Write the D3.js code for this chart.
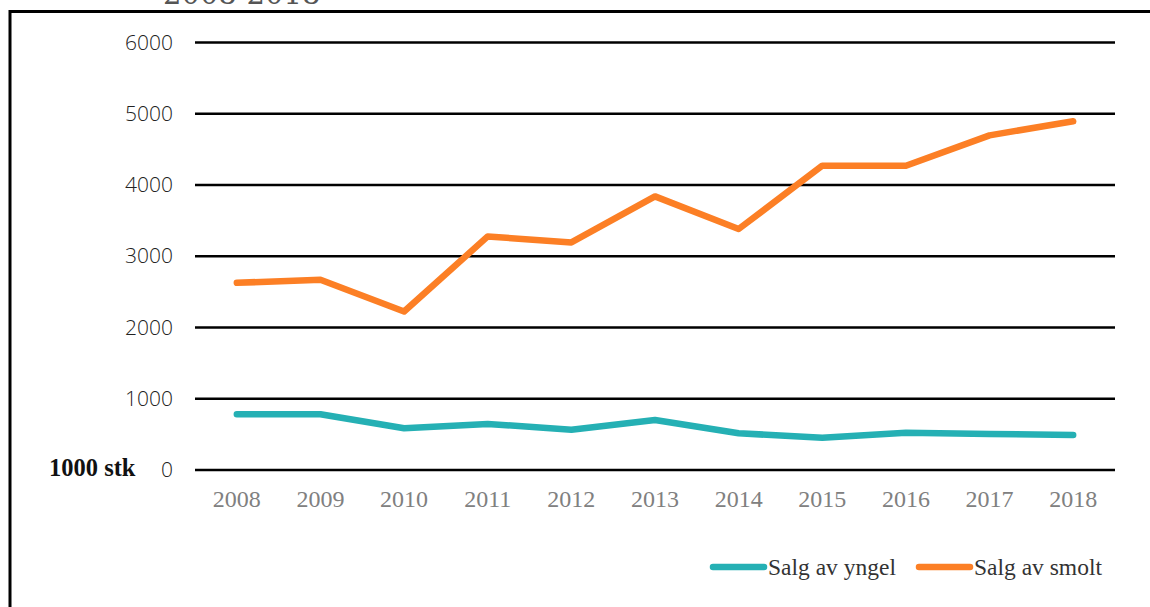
<!DOCTYPE html>
<html>
<head>
<meta charset="utf-8">
<script src="https://cdn.jsdelivr.net/npm/d3@7"></script>
<style>
  body { margin: 0; background: #fff; }
  svg { display: block; }
</style>
</head>
<body>
<div id="chart"></div>
<script>
// data (1000 stk)
const years = ["2008", "2009", "2010", "2011", "2012", "2013", "2014", "2015", "2016", "2017", "2018"]
const yngel = [782, 782, 586, 646, 566, 702, 515, 454, 524, 506, 492]
const smolt = [2627, 2670, 2224, 3278, 3194, 3840, 3382, 4271, 4271, 4697, 4894]
const yTicks = [0, 1000, 2000, 3000, 4000, 5000, 6000]
const seriesNames = ["Salg av yngel", "Salg av smolt"]
const seriesColors = ["#25B0B4", "#FC7F25"]

const width = 1150
const height = 607

const svg = d3.select("#chart")
  .append("svg")
    .attr("width", width)
    .attr("height", height)

// outer frame, only left and top edges visible
svg.append("rect")
    .attr("x", 10)
    .attr("y", 11.5)
    .attr("width", 1200)
    .attr("height", 700)
    .attr("fill", "none")
    .attr("stroke", "#000")
    .attr("stroke-width", 3)

// title, cut by the top edge as in the source
svg.append("text")
    .attr("x", 163)
    .attr("y", 4)
    .attr("font-family", "DejaVu Serif")
    .attr("font-size", 29)
    .attr("fill", "#555")
    .text("2008-2018")

const x = d3.scaleBand()
    .domain(years)
    .range([195, 1115])

const y = d3.scaleLinear()
    .domain([0, 6000])
    .range([470, 42.5])

// gridlines
svg.append("g")
  .selectAll("line")
  .data(yTicks)
  .join("line")
    .attr("x1", 195)
    .attr("x2", 1115)
    .attr("y1", d => y(d))
    .attr("y2", d => y(d))
    .attr("stroke", "#000")
    .attr("stroke-width", 2.5)

// y axis labels
const yAxis = svg.append("g")
    .attr("transform", "translate(173,0)")
    .call(d3.axisLeft(y).tickValues(yTicks).tickFormat(d3.format("d")).tickSize(0).tickPadding(0))
yAxis.select(".domain").remove()
yAxis.selectAll("text")
    .attr("font-family", "Open Sans")
    .attr("font-weight", 300)
    .attr("font-size", 21)
    .attr("fill", "#222")

// x axis labels
const xAxis = svg.append("g")
    .attr("transform", "translate(0,490)")
    .call(d3.axisBottom(x).tickSize(0).tickPadding(0))
xAxis.select(".domain").remove()
xAxis.selectAll("text")
    .attr("font-family", "Liberation Serif")
    .attr("font-size", 24)
    .attr("fill", "#808080")

// unit label
svg.append("text")
    .attr("x", 49)
    .attr("y", 476)
    .attr("font-family", "Liberation Serif")
    .attr("font-weight", "bold")
    .attr("font-size", 24.5)
    .attr("fill", "#111")
    .text("1000 stk")

const line = d3.line()
    .x((d, i) => x(years[i]) + x.bandwidth() / 2)
    .y(d => y(d))

svg.append("g")
  .selectAll("path")
  .data([yngel, smolt])
  .join("path")
    .attr("d", line)
    .attr("fill", "none")
    .attr("stroke", (d, i) => seriesColors[i])
    .attr("stroke-width", 6.5)
    .attr("stroke-linecap", "round")
    .attr("stroke-linejoin", "round")

// legend
const legendX = [713, 919]
const legend = svg.append("g")
  .selectAll("g")
  .data(seriesNames)
  .join("g")
    .attr("transform", (d, i) => `translate(${legendX[i]},567)`)

legend.append("line")
    .attr("x1", 0)
    .attr("x2", 51)
    .attr("stroke", (d, i) => seriesColors[i])
    .attr("stroke-width", 6.5)
    .attr("stroke-linecap", "round")

legend.append("text")
    .attr("x", 55)
    .attr("y", 7.5)
    .attr("font-family", "Liberation Serif")
    .attr("font-size", 23.5)
    .attr("fill", "#333")
    .text(d => d)
</script>
</body>
</html>
